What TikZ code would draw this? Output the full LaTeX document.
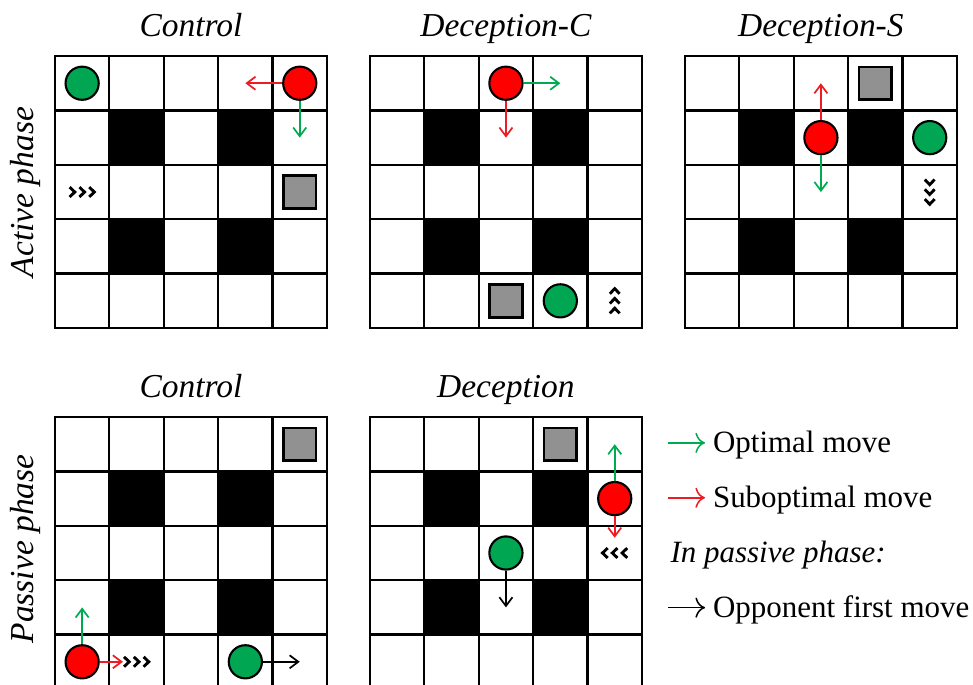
\documentclass[tikz,border=0pt]{standalone}
\usepackage{fontspec}
\setmainfont{Liberation Serif}
\usetikzlibrary{arrows.meta}

\definecolor{agentgreen}{RGB}{0,166,81}
\definecolor{agentred}{RGB}{255,0,0}
\definecolor{movegreen}{RGB}{0,170,80}
\definecolor{movered}{RGB}{237,28,36}
\definecolor{goalgray}{RGB}{145,145,145}

\tikzset{
  chevrons/.pic={
    \draw[line width=1.5pt] (-0.23,0.09) -- (-0.135,0) -- (-0.23,-0.09)
      (-0.05,0.09) -- (0.045,0) -- (-0.05,-0.09)
      (0.13,0.09) -- (0.225,0) -- (0.13,-0.09);
  }
}

\begin{document}
\begin{tikzpicture}[
    cellline/.style={line width=1.2pt},
    border/.style={line width=1.4pt},
    agent/.style={circle, draw, line width=1.1pt, minimum size=0.61cm, inner sep=0pt},
    redagent/.style={agent, fill=agentred},
    greenagent/.style={agent, fill=agentgreen},
    goal/.style={rectangle, draw, line width=1.4pt, fill=goalgray, minimum size=0.6cm, inner sep=0pt},
    optmove/.style={draw=movegreen, line width=0.9pt, -{Straight Barb[length=1.6mm,width=2.4mm]}},
    submove/.style={draw=movered, line width=0.9pt, -{Straight Barb[length=1.6mm,width=2.4mm]}},
    oppmove/.style={draw=black, line width=0.9pt, -{Straight Barb[length=1.6mm,width=2.4mm]}},
    title/.style={font=\fontsize{17.5}{20}\selectfont\itshape, anchor=base},
    phase/.style={title, rotate=90},
    legend/.style={font=\fontsize{16.2}{19}\selectfont, anchor=west, inner xsep=0.14cm, inner ysep=0pt, text height=0.48cm, text depth=0.12cm},
    legarrow/.style={line width=0.8pt, -{To[scale=1.5]}}
  ]
    \useasboundingbox (0,-12.574) rectangle (17.886,0);
    \clip (0,-12.574) rectangle (17.886,0);

    % Titles and phase labels
    \node[title] (ttlControlA) at (3.51,-0.68) {Control};
    \node[title] (ttlDecC) at (9.30,-0.68) {Deception-C};
    \node[title] (ttlDecS) at (15.09,-0.68) {Deception-S};
    \node[title] (ttlControlP) at (3.51,-7.30) {Control};
    \node[title] (ttlDec) at (9.30,-7.30) {Deception};
    \node[phase] (phActive) at (0.61,-3.53) {Active phase};
    \node[phase] (phPassive) at (0.61,-10.09) {Passive phase};

    % Active phase - Control
    \begin{scope}[shift={(1.01,-6.03)}]
      \fill (1,1) rectangle (2,2) (3,1) rectangle (4,2) (1,3) rectangle (2,4) (3,3) rectangle (4,4);
      \draw[cellline] (0,0) grid (5,5);
      \draw[border] (0,0) rectangle (5,5);
      \node[greenagent] (acGreen) at (0.5,4.5) {};
      \node[redagent] (acRed) at (4.5,4.5) {};
      \node[goal] (acGoal) at (4.5,2.5) {};
      \coordinate (acRedLeft) at (3.5,4.5);
      \coordinate (acRedDown) at (4.5,3.5);
      \draw[submove] (acRed) -- (acRedLeft);
      \draw[optmove] (acRed) -- (acRedDown);
      \pic at (0.5,2.5) {chevrons};
    \end{scope}

    % Active phase - Deception-C
    \begin{scope}[shift={(6.80,-6.03)}]
      \fill (1,1) rectangle (2,2) (3,1) rectangle (4,2) (1,3) rectangle (2,4) (3,3) rectangle (4,4);
      \draw[cellline] (0,0) grid (5,5);
      \draw[border] (0,0) rectangle (5,5);
      \node[redagent] (adcRed) at (2.5,4.5) {};
      \node[goal] (adcGoal) at (2.5,0.5) {};
      \node[greenagent] (adcGreen) at (3.5,0.5) {};
      \coordinate (adcRedRight) at (3.5,4.5);
      \coordinate (adcRedDown) at (2.5,3.5);
      \draw[optmove] (adcRed) -- (adcRedRight);
      \draw[submove] (adcRed) -- (adcRedDown);
      \pic[rotate=90] at (4.5,0.5) {chevrons};
    \end{scope}

    % Active phase - Deception-S
    \begin{scope}[shift={(12.59,-6.03)}]
      \fill (1,1) rectangle (2,2) (3,1) rectangle (4,2) (1,3) rectangle (2,4) (3,3) rectangle (4,4);
      \draw[cellline] (0,0) grid (5,5);
      \draw[border] (0,0) rectangle (5,5);
      \node[goal] (adsGoal) at (3.5,4.5) {};
      \node[redagent] (adsRed) at (2.5,3.5) {};
      \node[greenagent] (adsGreen) at (4.5,3.5) {};
      \coordinate (adsRedUp) at (2.5,4.5);
      \coordinate (adsRedDown) at (2.5,2.5);
      \draw[submove] (adsRed) -- (adsRedUp);
      \draw[optmove] (adsRed) -- (adsRedDown);
      \pic[rotate=-90] at (4.5,2.5) {chevrons};
    \end{scope}

    % Passive phase - Control
    \begin{scope}[shift={(1.01,-12.665)}]
      \fill (1,1) rectangle (2,2) (3,1) rectangle (4,2) (1,3) rectangle (2,4) (3,3) rectangle (4,4);
      \draw[cellline] (0,0) grid (5,5);
      \draw[border] (0,0) rectangle (5,5);
      \node[goal] (pcGoal) at (4.5,4.5) {};
      \node[redagent] (pcRed) at (0.5,0.5) {};
      \node[greenagent] (pcGreen) at (3.5,0.5) {};
      \coordinate (pcRedUp) at (0.5,1.5);
      \coordinate (pcRedRight) at (1.25,0.5);
      \coordinate (pcGreenRight) at (4.5,0.5);
      \draw[optmove] (pcRed) -- (pcRedUp);
      \draw[submove] (pcRed) -- (pcRedRight);
      \draw[oppmove] (pcGreen) -- (pcGreenRight);
      \pic at (1.5,0.5) {chevrons};
    \end{scope}

    % Passive phase - Deception
    \begin{scope}[shift={(6.80,-12.665)}]
      \fill (1,1) rectangle (2,2) (3,1) rectangle (4,2) (1,3) rectangle (2,4) (3,3) rectangle (4,4);
      \draw[cellline] (0,0) grid (5,5);
      \draw[border] (0,0) rectangle (5,5);
      \node[goal] (pdGoal) at (3.5,4.5) {};
      \node[redagent] (pdRed) at (4.5,3.5) {};
      \node[greenagent] (pdGreen) at (2.5,2.5) {};
      \coordinate (pdRedUp) at (4.5,4.5);
      \coordinate (pdRedDown) at (4.5,2.78);
      \coordinate (pdGreenDown) at (2.5,1.5);
      \draw[optmove] (pdRed) -- (pdRedUp);
      \draw[submove] (pdRed) -- (pdRedDown);
      \draw[oppmove] (pdGreen) -- (pdGreenDown);
      \pic[rotate=180] at (4.5,2.5) {chevrons};
    \end{scope}

    % Legend
    \node[legend] (legOpt) at (12.96,-8.14) {Optimal move};
    \node[legend] (legSub) at (12.96,-9.15) {Suboptimal move};
    \node[legend, font=\fontsize{16.2}{19}\selectfont\itshape] (legPassive) at (12.18,-10.16) {In passive phase:};
    \node[legend] (legOpp) at (12.96,-11.17) {Opponent first move};
    \coordinate (legOptTail) at (12.28,-8.14);
    \coordinate (legSubTail) at (12.28,-9.15);
    \coordinate (legOppTail) at (12.28,-11.17);
    \draw[legarrow, movegreen] (legOptTail) -- (legOpt.west);
    \draw[legarrow, movered] (legSubTail) -- (legSub.west);
    \draw[legarrow] (legOppTail) -- (legOpp.west);
\end{tikzpicture}
\end{document}
